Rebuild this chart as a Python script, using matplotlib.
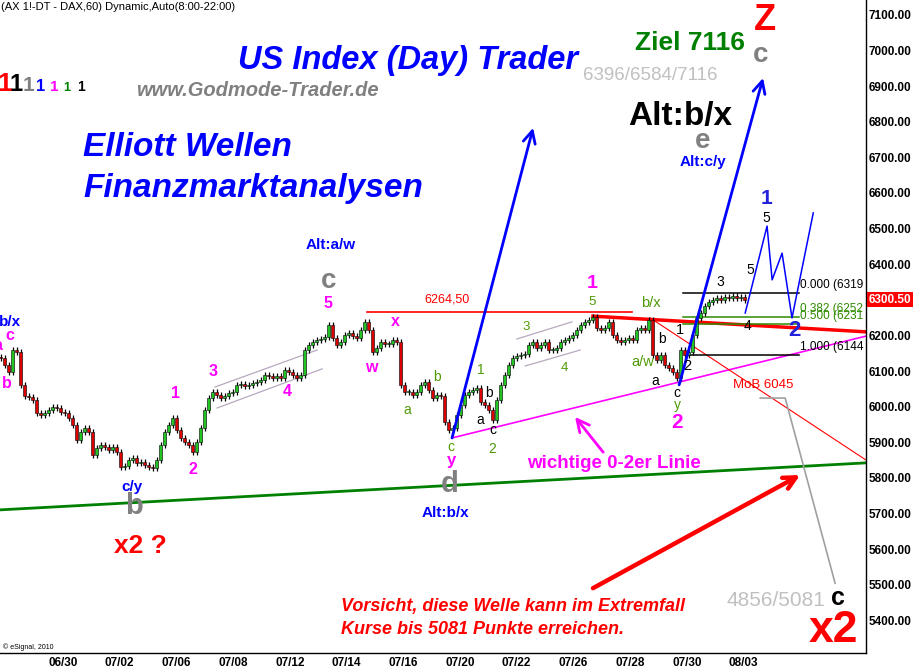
import numpy as np
import matplotlib
matplotlib.use("Agg")
import matplotlib.pyplot as plt
from matplotlib.transforms import Affine2D

plt.rcParams['font.family'] = ['Liberation Sans', 'DejaVu Sans']

closes = [6137, 6117, 6097, 6159, 6153, 6060, 6030, 6027, 6019, 5982, 5976, 5982, 5990, 5999, 5996,
          5985, 5982, 5968, 5948, 5906, 5929, 5940, 5929, 5864, 5884, 5892, 5886, 5878, 5886, 5872,
          5830, 5833, 5850, 5856, 5842, 5844, 5836, 5830, 5827, 5850, 5892, 5929, 5948, 5968, 5934,
          5912, 5901, 5892, 5872, 5901, 5940, 5990, 6024, 6041, 6033, 6024, 6030, 6038, 6041, 6061,
          6063, 6058, 6061, 6066, 6069, 6075, 6089, 6086, 6080, 6086, 6080, 6103, 6097, 6089, 6080,
          6089, 6159, 6173, 6181, 6187, 6190, 6196, 6229, 6193, 6173, 6181, 6201, 6207, 6198, 6193,
          6215, 6238, 6215, 6153, 6164, 6181, 6176, 6176, 6187, 6181, 6061, 6041, 6041, 6033, 6041,
          6061, 6069, 6047, 6024, 6033, 6030, 5957, 5934, 5940, 5976, 6004, 6033, 6041, 6047, 6052,
          6013, 6004, 5990, 5962, 6019, 6061, 6089, 6117, 6136, 6142, 6145, 6148, 6173, 6181, 6164,
          6173, 6181, 6159, 6159, 6164, 6181, 6187, 6193, 6201, 6215, 6229, 6238, 6243, 6251, 6221,
          6215, 6221, 6238, 6201, 6187, 6181, 6187, 6193, 6187, 6215, 6221, 6215, 6243, 6145, 6131,
          6145, 6117, 6108, 6097, 6080, 6159, 6145, 6153, 6201, 6249, 6263, 6283, 6294, 6299, 6305,
          6299, 6308, 6305, 6311, 6305, 6308, 6300]
first_open = 6140
last_price = 6300.50

date_labels = ['06/30', '07/02', '07/06', '07/08', '07/12', '07/14', '07/16',
               '07/20', '07/22', '07/26', '07/28', '07/30', '08/03']
date_pos = [0, 2, 4, 6, 8, 10, 12, 14, 16, 18, 20, 22, 24]
price_ticks = [5400, 5500, 5600, 5700, 5800, 5900, 6000, 6100, 6200,
               6400, 6500, 6600, 6700, 6800, 6900, 7000, 7100]

# fib levels (label, price, color)
fib_levels = [('0.000 (6319', 6319, 'black'), ('0.382 (6252', 6252, '#2e8b00'),
              ('0.500 (6231', 6231, '#2e8b00'), ('1.000 (6144', 6144, 'black')]

# drawn lines in (day, price)
green_trend = ([-2.22, 28.32], [5710, 5842])
red_level = ([10.72, 20.07], [6264.5, 6264.5])
red_thick = ([18.69, 28.32], [6254, 6210])
magenta_02 = ([13.72, 28.32], [5912, 6198])
red_mob = ([20.71, 28.32], [6249, 5850])
gray_path = ([24.59, 25.47, 27.23], [6024, 6024, 5504])
blue_path = ([24.06, 24.83, 25.01, 25.36, 25.71, 26.46], [6263, 6507, 6356, 6431, 6249, 6544])
channels = [([5.36, 8.96], [6055, 6159]), ([5.43, 9.14], [5996, 6106]),
            ([16.01, 17.95], [6190, 6238]), ([16.30, 18.24], [6114, 6159])]
arrows = [((13.72, 5912), (16.58, 6783), 'blue', 2.0),
          ((21.73, 6061), (24.69, 6923), 'blue', 2.0),
          ((18.69, 5490), (26.00, 5808), 'red', 3.2),
          ((19.05, 5872), (18.06, 5971), '#ff00ff', 2.0)]

fig = plt.figure(figsize=(9.15, 6.72), dpi=100)
ax = fig.add_axes([0, 19 / 672, 866 / 915, 653 / 672])
pix = Affine2D().scale(1 / 915, -1 / 672).translate(0, 1) + fig.transFigure

# candles
step = 1 / 7.09
x = -2.19 + np.arange(len(closes)) * step
c = np.array(closes, dtype=float)
o = np.concatenate([[first_open], c[:-1]])
lo = np.minimum(o, c)
hi = np.maximum(o, c)
wick = 9
ax.vlines(x, lo - wick, hi + wick, color='black', lw=0.9, zorder=3)
cols = np.where(c >= o, '#22c322', '#dd0000')
ax.bar(x, np.maximum(hi - lo, 3), bottom=lo, width=step * 0.75, color=cols,
       edgecolor='black', linewidth=0.4, zorder=4)

# lines
ax.plot(*green_trend, color='#008000', lw=2, zorder=2)
ax.plot(*red_level, color='#ff0000', lw=1.2, zorder=2)
ax.plot(*red_thick, color='#ff0000', lw=2.5, zorder=2)
ax.plot(*magenta_02, color='#ff00ff', lw=1.2, zorder=2)
ax.plot(*red_mob, color='#ff0000', lw=0.8, zorder=2)
ax.plot(*gray_path, color='#a0a0a0', lw=1.2, zorder=2)
ax.plot(*blue_path, color='#0000ff', lw=1.1, zorder=5)
for cx, cy in channels:
    ax.plot(cx, cy, color='#b8a8c0', lw=0.9, zorder=2)
for start, tip, col, w in arrows:
    ax.annotate('', xy=tip, xytext=start,
                arrowprops=dict(arrowstyle='->', color=col, lw=w, mutation_scale=22,
                                shrinkA=0, shrinkB=0), zorder=5)

for lab, lvl, col in fib_levels:
    x0 = 22.08 if lab.startswith('1.000') else 21.87
    ax.plot([x0, 25.95], [lvl, lvl], color=col, lw=1.1, zorder=2)
    ax.text(26.0, lvl + 6, lab, color=col, fontsize=8.5, va='bottom', ha='left',
            clip_on=True, zorder=6)

# texts (pixel positions, y from top)
texts = [
    (1, 7, '(AX 1!-DT - DAX,60) Dynamic,Auto(8:00-22:00)', 'black', 8, 'normal', 'normal', 'left'),
    (408, 61, 'US Index (Day) Trader', '#0000ff', 23.5, 'bold', 'italic', 'center'),
    (257, 91, 'www.Godmode-Trader.de', '#808080', 14.5, 'bold', 'italic', 'center'),
    (83, 147, 'Elliott Wellen', '#0000ff', 24, 'bold', 'italic', 'left'),
    (83, 188, 'Finanzmarktanalysen', '#0000ff', 24, 'bold', 'italic', 'left'),
    (690, 43, 'Ziel 7116', '#008000', 19, 'bold', 'normal', 'center'),
    (765, 21, 'Z', '#ff0000', 26, 'bold', 'normal', 'center'),
    (761, 55, 'c', '#808080', 20, 'bold', 'normal', 'center'),
    (650, 76, '6396/6584/7116', '#c0c0c0', 13.5, 'normal', 'normal', 'center'),
    (680, 116, 'Alt:b/x', 'black', 24, 'bold', 'normal', 'center'),
    (703, 141, 'e', '#808080', 20, 'bold', 'normal', 'center'),
    (703, 162, 'Alt:c/y', '#0000ff', 11, 'bold', 'normal', 'center'),
    (767, 199, '1', '#2222dd', 15, 'bold', 'normal', 'center'),
    (766, 218, '5', 'black', 10, 'normal', 'normal', 'center'),
    (750, 270, '5', 'black', 10, 'normal', 'normal', 'center'),
    (720, 282, '3', 'black', 10, 'normal', 'normal', 'center'),
    (748, 326, '4', 'black', 10, 'normal', 'normal', 'center'),
    (794, 330, '2', '#2222dd', 16, 'bold', 'normal', 'center'),
    (680, 330, '1', 'black', 10.5, 'normal', 'normal', 'center'),
    (687, 366, '2', 'black', 10.5, 'normal', 'normal', 'center'),
    (651, 303, 'b/x', '#4e9a06', 10.5, 'normal', 'normal', 'center'),
    (643, 362, 'a/w', '#4e9a06', 10.5, 'normal', 'normal', 'center'),
    (662, 339, 'b', 'black', 10, 'normal', 'normal', 'center'),
    (655, 381, 'a', 'black', 10, 'normal', 'normal', 'center'),
    (677, 393, 'c', 'black', 10, 'normal', 'normal', 'center'),
    (677, 405, 'y', '#4e9a06', 10, 'normal', 'normal', 'center'),
    (677, 423, '2', '#ff00ff', 15, 'bold', 'normal', 'center'),
    (763, 385, 'MoB 6045', '#ff0000', 9.5, 'normal', 'normal', 'center'),
    (447, 300, '6264,50', '#ff0000', 9, 'normal', 'normal', 'center'),
    (592, 284, '1', '#ff00ff', 14, 'bold', 'normal', 'center'),
    (592, 302, '5', '#4e9a06', 9.5, 'normal', 'normal', 'center'),
    (526, 327, '3', '#4e9a06', 9.5, 'normal', 'normal', 'center'),
    (564, 368, '4', '#4e9a06', 9.5, 'normal', 'normal', 'center'),
    (481, 370, '1', '#4e9a06', 10, 'normal', 'normal', 'center'),
    (489, 393, 'b', 'black', 10, 'normal', 'normal', 'center'),
    (480, 420, 'a', 'black', 10, 'normal', 'normal', 'center'),
    (493, 430, 'c', 'black', 10, 'normal', 'normal', 'center'),
    (492, 449, '2', '#4e9a06', 10, 'normal', 'normal', 'center'),
    (451, 447, 'c', '#4e9a06', 10, 'normal', 'normal', 'center'),
    (451, 460, 'y', '#ff00ff', 12, 'bold', 'normal', 'center'),
    (450, 484, 'd', '#808080', 21, 'bold', 'normal', 'center'),
    (445, 513, 'Alt:b/x', '#0000ff', 11, 'bold', 'normal', 'center'),
    (407, 410, 'a', '#4e9a06', 10, 'normal', 'normal', 'center'),
    (437, 377, 'b', '#4e9a06', 10, 'normal', 'normal', 'center'),
    (371, 368, 'w', '#ff00ff', 11.5, 'bold', 'normal', 'center'),
    (395, 322, 'x', '#ff00ff', 11.5, 'bold', 'normal', 'center'),
    (328, 304, '5', '#ff00ff', 11.5, 'bold', 'normal', 'center'),
    (329, 281, 'c', '#808080', 20, 'bold', 'normal', 'center'),
    (331, 245, 'Alt:a/w', '#0000ff', 11, 'bold', 'normal', 'center'),
    (213, 372, '3', '#ff00ff', 11.5, 'bold', 'normal', 'center'),
    (287, 391, '4', '#ff00ff', 11.5, 'bold', 'normal', 'center'),
    (175, 394, '1', '#ff00ff', 11.5, 'bold', 'normal', 'center'),
    (193, 470, '2', '#ff00ff', 11.5, 'bold', 'normal', 'center'),
    (132, 487, 'c/y', '#0000ff', 11, 'bold', 'normal', 'center'),
    (134, 506, 'b', '#808080', 21, 'bold', 'normal', 'center'),
    (140, 546, 'x2 ?', '#ff0000', 19, 'bold', 'normal', 'center'),
    (10, 322, 'b/x', '#0000ff', 11, 'bold', 'normal', 'center'),
    (10, 335, 'c', '#ff00ff', 11.5, 'bold', 'normal', 'center'),
    (7, 384, 'b', '#ff00ff', 11.5, 'bold', 'normal', 'center'),
    (-2, 345, 'a', '#ff00ff', 11.5, 'bold', 'normal', 'center'),
    (614, 463, 'wichtige 0-2er Linie', '#ff00ff', 13.5, 'bold', 'normal', 'center'),
    (341, 606, 'Vorsicht, diese Welle kann im Extremfall', '#ff0000', 13, 'bold', 'italic', 'left'),
    (341, 630, 'Kurse bis 5081 Punkte erreichen.', '#ff0000', 13, 'bold', 'italic', 'left'),
    (776, 601, '4856/5081', '#c0c0c0', 15, 'normal', 'normal', 'center'),
    (838, 598, 'c', 'black', 18, 'bold', 'normal', 'center'),
    (833, 630, 'x2', '#ff0000', 32, 'bold', 'normal', 'center'),
    (3, 647, '\u00a9 eSignal, 2010', 'black', 5, 'normal', 'normal', 'left'),
]
for tx, ty, s, col, size, weight, style, ha in texts:
    fig.text(tx, ty, s, transform=pix, color=col, fontsize=size, fontweight=weight,
             fontstyle=style, ha=ha, va='center', zorder=7)

# the "1 1 1 1 1 1 1" degree legend
ones_x = [5, 16, 29, 41, 54, 67, 81]
ones_size = [19, 17, 15, 12, 11, 9, 10]
ones_col = ['#ff0000', 'black', '#808080', '#0000ff', '#ff00ff', '#008000', 'black']
for ox, sz, col in zip(ones_x, ones_size, ones_col):
    fig.text(ox, 91, '1', transform=pix, color=col, fontsize=sz, fontweight='bold',
             ha='center', va='baseline')

# axes
ax.set_xlim(-2.222, 28.32)
ax.set_ylim(5308, 7142)
ax.set_xticks(date_pos)
ax.set_xticklabels(date_labels, fontsize=8.5, fontweight='bold')
ax.yaxis.tick_right()
ax.set_yticks(price_ticks)
ax.set_yticklabels(['%.2f' % p for p in price_ticks], fontsize=8.5, fontweight='bold')
ax.tick_params(axis='both', length=0)
ax.tick_params(axis='y', pad=2)
ax.tick_params(axis='x', pad=3)
for side in ['top', 'left']:
    ax.spines[side].set_visible(False)
for side in ['right', 'bottom']:
    ax.spines[side].set_linewidth(1)
ax.text(1.003, last_price, '%.2f' % last_price, transform=ax.get_yaxis_transform(),
        color='white', fontsize=8.5, fontweight='bold', va='center', ha='left',
        bbox=dict(boxstyle='square,pad=0.12', fc='#ff0000', ec='none'), clip_on=False)

fig.savefig('out.png', dpi=100)
